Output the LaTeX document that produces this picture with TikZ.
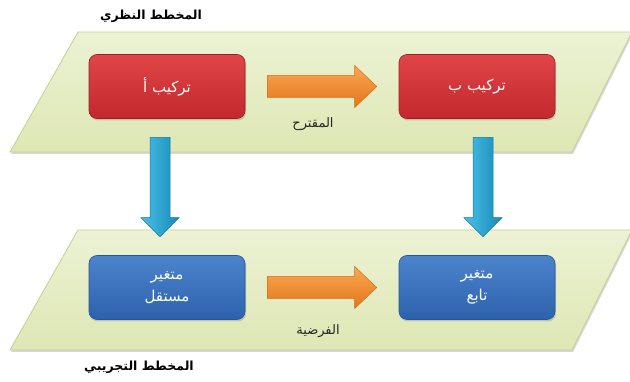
\documentclass[tikz,border=0pt]{standalone}
\usepackage{fontspec}
\newfontfamily\arabicfont[Script=Arabic]{DejaVu Sans}
\TeXXeTstate=1
\usetikzlibrary{shadows,calc}
\definecolor{parafillA}{RGB}{236,242,212}
\definecolor{parafillB}{RGB}{222,231,180}
\definecolor{paraedge}{RGB}{198,208,148}
\definecolor{redA}{RGB}{224,70,72}
\definecolor{redB}{RGB}{194,40,44}
\definecolor{rededge}{RGB}{160,30,34}
\definecolor{blueA}{RGB}{76,132,204}
\definecolor{blueB}{RGB}{44,98,172}
\definecolor{blueedge}{RGB}{38,86,152}
\definecolor{orA}{RGB}{248,170,82}
\definecolor{orB}{RGB}{228,116,28}
\definecolor{oredge}{RGB}{214,108,26}
\definecolor{cyA}{RGB}{72,192,232}
\definecolor{cyB}{RGB}{24,138,184}
\definecolor{cyedge}{RGB}{22,120,160}
\begin{document}
\begin{tikzpicture}[x=1pt,y=-1pt,
  para/.style={top color=parafillA,bottom color=parafillB,draw=paraedge,line width=0.8pt,
    drop shadow={opacity=0.3,shadow xshift=1pt,shadow yshift=-2pt}},
  boxbase/.style={rounded corners=8pt,minimum width=156pt,minimum height=64pt,
    text=white,align=center,font=\arabicfont\fontsize{15}{22}\selectfont,line width=0.6pt,
    drop shadow={opacity=0.35,shadow xshift=1pt,shadow yshift=-2pt}},
  redbox/.style={boxbase,top color=redA,bottom color=redB,draw=rededge},
  bluebox/.style={boxbase,top color=blueA,bottom color=blueB,draw=blueedge},
  titlelbl/.style={font=\arabicfont\bfseries\fontsize{12.5}{14}\selectfont,text=black},
  arrlbl/.style={font=\arabicfont\fontsize{13}{15}\selectfont,text=black!85},
  orarrow/.style={top color=orA,bottom color=orB,draw=oredge,line width=0.5pt,line join=miter},
  cyarrow/.style={left color=cyA,right color=cyB,draw=cyedge,line width=0.5pt,line join=miter}
]
\useasboundingbox (0,0) rectangle (630,382);
\fill[white] (0,0) rectangle (630,382);

% planes
\shade[para] (78,32) -- (632,32) -- (572,152) -- (10,152) -- cycle;
\shade[para] (78,230) -- (632,230) -- (572,350) -- (10,350) -- cycle;

% boxes
\node[redbox] (ta) at (167,86.5) {\beginR تركيب أ\endR};
\node[redbox] (tb) at (477,86.5) {\beginR تركيب ب\endR};
\node[bluebox] (ba) at (167,287.5) {\beginR متغير\endR\\\beginR مستقل\endR};
\node[bluebox] (bb) at (477,287.5) {\beginR متغير\endR\\\beginR تابع\endR};

% labels
\node[titlelbl] (lt) at (151,16) {\beginR المخطط النظري\endR};
\node[titlelbl] (lb) at (139,367) {\beginR المخطط التجريبي\endR};
\node[arrlbl] (lm) at (313,124) {\beginR المقترح\endR};
\node[arrlbl] (lf) at (318,331) {\beginR الفرضية\endR};

% horizontal block arrows
\coordinate (h1s) at ($(ta.east)+(22,0)$);
\coordinate (h1e) at ($(tb.west)+(-22,0)$);
\coordinate (h2s) at ($(ba.east)+(22,0)$);
\coordinate (h2e) at ($(bb.west)+(-22,0)$);
\foreach \s/\e in {h1s/h1e,h2s/h2e}{
  \shade[orarrow] ($(\s)+(0,-11)$) -- ($(\e)+(-22,-11)$) -- ($(\e)+(-22,-21)$) -- (\e)
    -- ($(\e)+(-22,21)$) -- ($(\e)+(-22,11)$) -- ($(\s)+(0,11)$) -- cycle;
}

% vertical block arrows
\coordinate (v1s) at ($(ta.south)+(-7,18.5)$);
\coordinate (v1e) at ($(ba.north)+(-7,-18.5)$);
\coordinate (v2s) at ($(tb.south)+(6,18.5)$);
\coordinate (v2e) at ($(bb.north)+(6,-18.5)$);
\foreach \s/\e in {v1s/v1e,v2s/v2e}{
  \shade[cyarrow] ($(\s)+(-10,0)$) -- ($(\s)+(10,0)$) -- ($(\e)+(10,-19)$) -- ($(\e)+(19,-19)$)
    -- (\e) -- ($(\e)+(-19,-19)$) -- ($(\e)+(-10,-19)$) -- cycle;
}
\end{tikzpicture}
\end{document}
